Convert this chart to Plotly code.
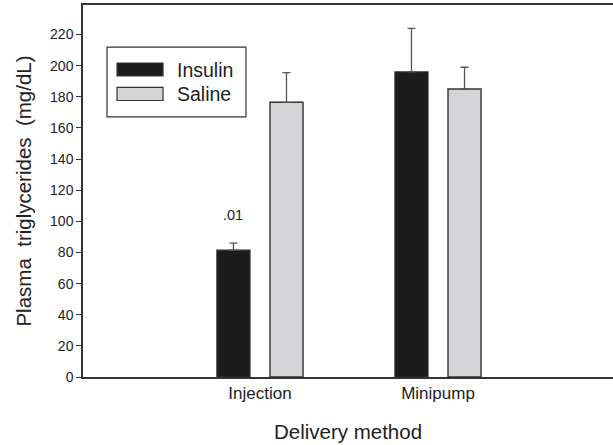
import plotly.graph_objects as go

categories = ["Injection", "Minipump"]
series_names = ["Insulin", "Saline"]
insulin = [81.5, 196]
insulin_err = [4.5, 28]
saline = [176.5, 185]
saline_err = [19, 14]
y_ticks = [0, 20, 40, 60, 80, 100, 120, 140, 160, 180, 200, 220]
note_text = ".01"
note_value = 104

FONT = "Liberation Sans, Arial, sans-serif"
AXC = "#333333"
TXT = "#222222"

fig = go.Figure()
fig.add_trace(go.Bar(
    x=categories, y=insulin, name=series_names[0],
    marker=dict(color="#1c1c1c", line=dict(color="#2a2a2a", width=1.2)),
    error_y=dict(type="data", array=insulin_err, arrayminus=[0, 0], symmetric=False,
                 color="#555555", thickness=1.3, width=4),
    showlegend=False,
))
fig.add_trace(go.Bar(
    x=categories, y=saline, name=series_names[1],
    marker=dict(color="#d4d4d6", line=dict(color="#333333", width=1.4)),
    error_y=dict(type="data", array=saline_err, arrayminus=[0, 0], symmetric=False,
                 color="#555555", thickness=1.3, width=4),
    showlegend=False,
))

fig.update_layout(
    width=613, height=445,
    margin=dict(l=83, r=0, t=5, b=68),
    paper_bgcolor="white", plot_bgcolor="white",
    barmode="group", bargap=0.404, bargroupgap=0.377,
    font=dict(family=FONT, color=TXT),
    xaxis=dict(
        range=[-0.994, 1.983], showline=True, linecolor=AXC, linewidth=1.5, mirror=True,
        ticks="", showgrid=False, zeroline=False,
        tickfont=dict(size=17, family=FONT, color=TXT),
        title=dict(text="Delivery method", font=dict(size=20.5, family=FONT, color=TXT), standoff=22),
    ),
    yaxis=dict(
        range=[0, 239], showline=True, linecolor=AXC, linewidth=1.5,
        tickvals=y_ticks, ticks="outside", ticklen=5, tickcolor=AXC, tickwidth=1,
        showgrid=False, zeroline=False,
        tickfont=dict(size=14, family=FONT, color=TXT),
        title=dict(text="Plasma  triglycerides  (mg/dL)", font=dict(size=20.5, family=FONT, color=TXT), standoff=13),
    ),
)

# significance note
fig.add_annotation(x=categories[0], y=note_value, text=note_text, showarrow=False,
                   xshift=-26.5, font=dict(size=14.5, family=FONT, color=TXT))

# custom legend box with wide swatches
fig.add_shape(type="rect", xref="paper", yref="paper", x0=0.0453, x1=0.3075, y0=0.699, y1=0.887,
              line=dict(color="#333333", width=1.2), fillcolor="white")
legend_colors = ["#1c1c1c", "#d4d4d6"]
legend_y = [0.8266, 0.7608]
for name, col, yy in zip(series_names, legend_colors, legend_y):
    fig.add_shape(type="rect", xref="paper", yref="paper", x0=0.0642, x1=0.151,
                  y0=yy - 0.0175, y1=yy + 0.0175,
                  line=dict(color="#333333", width=1.2), fillcolor=col)
    fig.add_annotation(xref="paper", yref="paper", x=0.1735, y=yy, text=name, showarrow=False,
                       xanchor="left", yanchor="middle", font=dict(size=19.5, family=FONT, color=TXT))

fig.write_html("out.html", post_script="document.body.style.margin='0';",
               config={"displayModeBar": False})
